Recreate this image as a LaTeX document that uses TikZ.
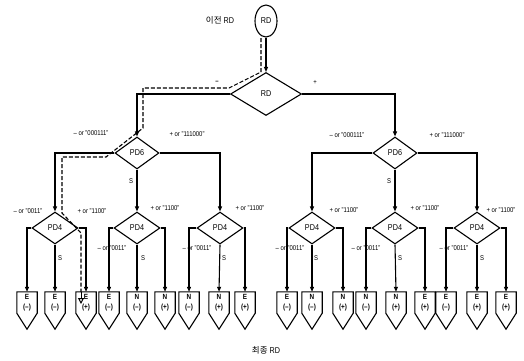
\documentclass[tikz,border=0pt]{standalone}
\usepackage{fontspec}
\setmainfont{Liberation Sans}[FakeStretch=0.85]
\newfontfamily\kr{Noto Sans CJK KR}
\usetikzlibrary{shapes.geometric,arrows.meta}
\begin{document}
\begin{tikzpicture}[x=1pt,y=-1pt,
  every node/.style={inner sep=0pt},
  ln/.style={line width=1.1pt},
  arr/.style={ln,-{Triangle[length=5pt,width=4pt]}},
  dia/.style={diamond,draw,ln,font=\fontsize{8.5}{9}\selectfont},
  lbl/.style={font=\fontsize{7}{8}\selectfont},
  leafn/.style={rectangle,minimum width=20pt,minimum height=21pt,align=center,font=\fontsize{7.5}{10}\selectfont\bfseries},
  trace/.style={line width=1.1pt,dash pattern=on 4pt off 2pt}
]
\useasboundingbox (0,0) rectangle (524,360);

% top
\node[ellipse,draw,ln,minimum width=22pt,minimum height=32pt,font=\fontsize{8.5}{9}\selectfont] (top) at (266,21) {RD};
\node[font=\fontsize{8.5}{9}\selectfont] (prev) at (220,20) {{\kr 이전} RD};
\node[dia,minimum width=71pt,minimum height=43pt] (rd) at (266,94) {RD};
\node[lbl] (mm) at (217,82) {\textbf{--}};
\node[lbl] (pp) at (315,82) {+};

% PD6
\node[dia,minimum width=44pt,minimum height=32pt] (p6l) at (137,153) {PD6};
\node[dia,minimum width=44pt,minimum height=32pt] (p6r) at (395,153) {PD6};

% PD4
\foreach \n/\x in {a/55,b/137,c/220,d/312,e/395,f/477}{
  \node[dia,minimum width=46pt,minimum height=32pt] (q\n) at (\x,228) {PD4};
}

% leaves
\foreach \n/\x/\a/\s in {1/27/E/--,2/55/E/--,3/86/E/+,4/109/E/--,5/137/N/--,6/165/N/+,
  7/189/N/--,8/219/N/+,9/245/E/+,10/287/E/--,11/312/N/--,12/343/N/+,13/366/N/--,
  14/396/N/+,15/425/E/+,16/446/E/--,17/477/E/+,18/506/E/+}{
  \node[leafn] (l\n) at (\x,302.5) {\a\\(\s)};
  \draw[ln] (l\n.north west) -- (l\n.north east) -- (l\n.south east)
     -- ([yshift=-16pt]l\n.south) -- (l\n.south west) -- cycle;
}

% connectors
\draw[arr] (top.south) -- (rd.north);
\draw[arr] (rd.west) -| (p6l.north);
\draw[arr] (rd.east) -| (p6r.north);
\draw[arr] (p6l.west) -| (qa.north);
\draw[arr] (p6l.south) -- (qb.north);
\draw[arr] (p6l.east) -| (qc.north);
\draw[arr] (p6r.west) -| (qd.north);
\draw[arr] (p6r.south) -- (qe.north);
\draw[arr] (p6r.east) -| (qf.north);
\foreach \q/\l/\s/\r in {a/1/2/3,b/4/5/6,c/7/8/9,d/10/11/12,e/13/14/15,f/16/17/18}{
  \draw[arr] (q\q.west) -| (l\l.north);
  \draw[arr] (q\q.south) -- (l\s.north);
  \draw[arr] (q\q.east) -| (l\r.north);
}

% labels
\node[lbl] (t1) at (91,133) {-- or "000111"};
\node[lbl] (t2) at (187,134) {+ or "111000"};
\node[lbl] (t3) at (131,181) {S};
\node[lbl] (t4) at (347,135) {-- or "000111"};
\node[lbl] (t5) at (447,135) {+ or "111000"};
\node[lbl] (t6) at (389,181) {S};

\node[lbl] (u1) at (28,211) {-- or "0011"};
\foreach \n/\x/\y in {a/92/211,b/165/208,c/250/208,d/344/210,e/425/208,f/501/210}{
  \node[lbl] (up\n) at (\x,\y) {+ or "1100"};
}
\foreach \n/\x in {b/112,c/197,d/290,e/366,f/454}{
  \node[lbl] (um\n) at (\x,248) {-- or "0011"};
}
\foreach \n/\x in {a/60,b/143,c/224,d/316,e/400,f/482}{
  \node[lbl] (s\n) at (\x,258) {S};
}

\node[font=\fontsize{8.5}{9}\selectfont] (fin) at (266,350) {{\kr 최종} RD};

% traced path
\draw[trace] (261,38) -- (261,72) -- (229,88) -- (143,88) -- (143,128)
  -- (106,157) -- (62,157) -- (62,213) -- (81,233) -- (81,292);
\draw[line width=1pt,-{Triangle[open,length=6pt,width=6pt]}] (81,292) -- (81,304);
\end{tikzpicture}
\end{document}
